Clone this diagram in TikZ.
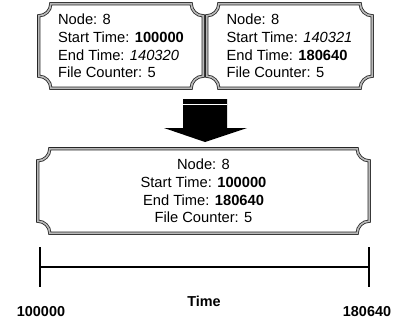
\documentclass[tikz,border=0pt]{standalone}
\usepackage{fontspec}
\setmainfont{Liberation Sans}
\usetikzlibrary{calc}
\newcommand\plaqr{12pt}
\newcommand\plaqueframe[1]{%
  \draw[plaq] ([xshift=\plaqr]#1.north west) -- ([xshift=-\plaqr]#1.north east)
    arc[start angle=180,end angle=270,radius=\plaqr]
    -- ([yshift=\plaqr]#1.south east)
    arc[start angle=90,end angle=180,radius=\plaqr]
    -- ([xshift=\plaqr]#1.south west)
    arc[start angle=0,end angle=90,radius=\plaqr]
    -- ([yshift=-\plaqr]#1.north west)
    arc[start angle=270,end angle=360,radius=\plaqr]
    -- cycle;}
\tikzset{
  plaq/.style={draw=black!85, line width=0.8pt, double=gray!55, double distance=1.6pt},
  infobox/.style={inner sep=0pt, minimum height=84pt, font=\fontsize{14.7}{17.7}\selectfont},
  axislabel/.style={inner sep=0pt, font=\fontsize{14.4}{16}\selectfont\bfseries},
  axisline/.style={line width=2pt, black}
}
\begin{document}
\begin{tikzpicture}[x=1pt,y=1pt]
\useasboundingbox (0,0) rectangle (398,322);
\node[infobox, minimum width=164pt, align=left] (box1) at (121,276)
  {Node: 8\\Start Time: \textbf{100000}\\End Time: \textit{140320}\\File Counter: 5};
\node[infobox, minimum width=165pt, align=left] (box2) at (289.5,276)
  {Node: 8\\Start Time: \textit{140321}\\End Time: \textbf{180640}\\File Counter: 5};
\node[infobox, minimum width=331pt, align=center] (box3) at (203.5,131)
  {Node: 8\\Start Time: \textbf{100000}\\End Time: \textbf{180640}\\File Counter: 5};
\plaqueframe{box1}
\plaqueframe{box2}
\plaqueframe{box3}
% big arrow
\coordinate (atop) at (205,223);
\fill[black] ($(atop)+(-22,0)$) -- ($(atop)+(22,0)$) -- ($(atop)+(22,-29)$) -- ($(atop)+(42,-29)$)
  -- ($(atop)+(0,-43)$) -- ($(atop)+(-41,-29)$) -- ($(atop)+(-22,-29)$) -- cycle;
\draw[white, line width=1pt] ($(atop)+(-22,-5)$) -- ($(atop)+(22,-5)$);
% timeline
\coordinate (tl) at (40,55);
\coordinate (tr) at (369,55);
\draw[axisline] (tl) -- (tr);
\draw[axisline] ([yshift=20pt]tl) -- ([yshift=-20pt]tl);
\draw[axisline] ([yshift=20pt]tr) -- ([yshift=-20pt]tr);
\node[axislabel] (lab1) at (41,10.5) {100000};
\node[axislabel] (labt) at (204,21) {Time};
\node[axislabel] (lab2) at (367,10.5) {180640};
\end{tikzpicture}
\end{document}
